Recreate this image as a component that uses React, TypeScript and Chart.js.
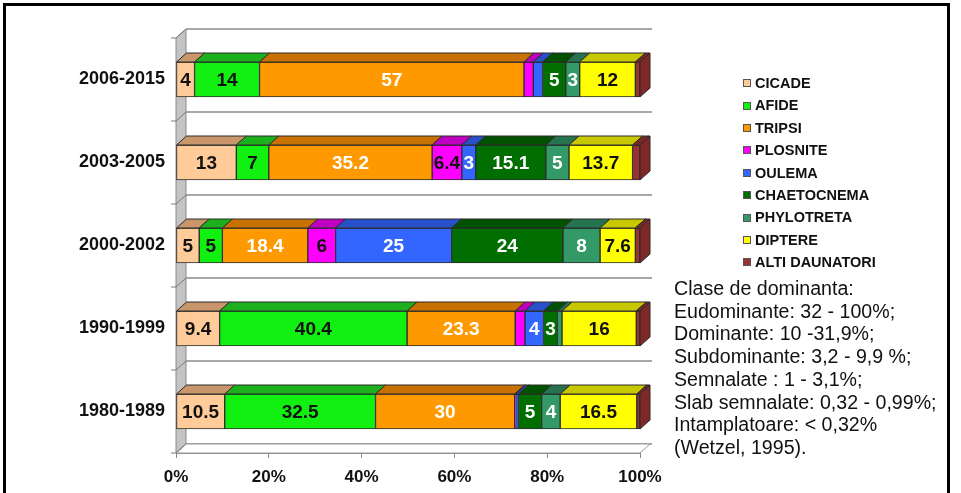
import React, { useEffect, useRef } from 'react';
import { Chart, registerables } from 'chart.js';

Chart.register(...registerables);

const FONT = '"Liberation Sans", Arial, Helvetica, sans-serif';

// Periods (top to bottom)
const categories = ['2006-2015', '2003-2005', '2000-2002', '1990-1999', '1980-1989'];

// Share of each pest group per period (%)
const cicade = [4, 13, 5, 9.4, 10.5];
const afide = [14, 7, 5, 40.4, 32.5];
const tripsi = [57, 35.2, 18.4, 23.3, 30];
const plosnite = [2, 6.4, 6, 2.1, 0.2];
const oulema = [2, 3, 25, 4, 0.6];
const chaetocnema = [5, 15.1, 24, 3, 5];
const phylotreta = [3, 5, 8, 1, 4];
const diptere = [12, 13.7, 7.6, 16, 16.5];
const altiDaunatori = [1, 1.6, 1, 0.8, 0.7];

const seriesNames = ['CICADE', 'AFIDE', 'TRIPSI', 'PLOSNITE', 'OULEMA', 'CHAETOCNEMA', 'PHYLOTRETA', 'DIPTERE', 'ALTI DAUNATORI'];
const seriesValues = [cicade, afide, tripsi, plosnite, oulema, chaetocnema, phylotreta, diptere, altiDaunatori];

const frontColors = ['#FFCC99', '#11F011', '#FF9900', '#FF00FF', '#3366FF', '#006E00', '#339966', '#FFFF00', '#993333'];
const topColors = ['#C8966A', '#1CB01C', '#C87000', '#C000C0', '#2850C8', '#005200', '#267350', '#C8C800', '#7A2626'];
const labelColors = ['#111', '#111', '#fff', '#111', '#fff', '#fff', '#fff', '#111', '#fff'];
const sideColor = '#7E2828';

const xTickValues = [0, 20, 40, 60, 80, 100];

const legendLines = seriesNames;
const noteLines = [
  'Clase de dominanta:',
  'Eudominante: 32 - 100%;',
  'Dominante: 10 -31,9%;',
  'Subdominante: 3,2 - 9,9 %;',
  'Semnalate : 1 - 3,1%;',
  'Slab semnalate: 0,32 - 0,99%;',
  'Intamplatoare: < 0,32%',
  '(Wetzel, 1995).',
];

// depth of the pseudo-3D extrusion
const DX = 10;
const DY = 9;
const LABEL_MIN = 3;

const depthPlugin = {
  id: 'depth3d',
  beforeDatasetsDraw(chart: any) {
    const { ctx, chartArea } = chart;
    const { left, right, top, bottom } = chartArea;
    const yScale = chart.scales.y;
    const n = categories.length;
    const step = (bottom - top) / n;
    const bounds: number[] = [];
    for (let i = 0; i <= n; i++) bounds.push(yScale.getPixelForValue(0) - step / 2 + i * step);
    ctx.save();
    // horizontal grid lines on the back
    ctx.strokeStyle = '#A8A8A8';
    ctx.lineWidth = 2;
    bounds.forEach((b) => {
      ctx.beginPath();
      ctx.moveTo(left + DX, b - DY);
      ctx.lineTo(right + DX + 2, b - DY);
      ctx.stroke();
    });
    // floor slab
    ctx.beginPath();
    ctx.moveTo(left, bottom);
    ctx.lineTo(right, bottom);
    ctx.lineTo(right + DX, bottom - DY);
    ctx.lineTo(left + DX, bottom - DY);
    ctx.closePath();
    ctx.fillStyle = '#fff';
    ctx.fill();
    ctx.lineWidth = 1;
    ctx.strokeStyle = '#9A9A9A';
    ctx.stroke();
    // side wall
    ctx.beginPath();
    ctx.moveTo(left, top);
    ctx.lineTo(left + DX, top - DY);
    ctx.lineTo(left + DX, bottom - DY);
    ctx.lineTo(left, bottom);
    ctx.closePath();
    ctx.fillStyle = '#C4C4C4';
    ctx.fill();
    ctx.strokeStyle = '#8A8A8A';
    ctx.stroke();
    ctx.strokeStyle = '#7A7A7A';
    bounds.forEach((b) => {
      ctx.beginPath();
      ctx.moveTo(left, b);
      ctx.lineTo(left + DX, b - DY);
      ctx.stroke();
      ctx.beginPath();
      ctx.moveTo(left - 5, b);
      ctx.lineTo(left, b);
      ctx.stroke();
    });
    ctx.restore();
  },
  afterDatasetsDraw(chart: any) {
    const { ctx } = chart;
    const last = chart.data.datasets.length - 1;
    ctx.save();
    ctx.lineWidth = 1;
    ctx.strokeStyle = '#2b2b2b';
    chart.data.datasets.forEach((ds: any, di: number) => {
      const meta = chart.getDatasetMeta(di);
      meta.data.forEach((el: any) => {
        const { x, y, base, height } = el.getProps(['x', 'y', 'base', 'height'], true);
        const x0 = Math.min(x, base);
        const x1 = Math.max(x, base);
        const t = y - height / 2;
        const b = y + height / 2;
        if (x1 - x0 > 0.1) {
          ctx.beginPath();
          ctx.moveTo(x0, t);
          ctx.lineTo(x1, t);
          ctx.lineTo(x1 + DX, t - DY);
          ctx.lineTo(x0 + DX, t - DY);
          ctx.closePath();
          ctx.fillStyle = topColors[di];
          ctx.fill();
          ctx.stroke();
        }
        if (di === last) {
          ctx.beginPath();
          ctx.moveTo(x1, t);
          ctx.lineTo(x1 + DX, t - DY);
          ctx.lineTo(x1 + DX, b - DY);
          ctx.lineTo(x1, b);
          ctx.closePath();
          ctx.fillStyle = sideColor;
          ctx.fill();
          ctx.stroke();
        }
      });
    });
    // value labels on the front faces
    ctx.font = `bold 19px ${FONT}`;
    ctx.textAlign = 'center';
    ctx.textBaseline = 'middle';
    chart.data.datasets.forEach((ds: any, di: number) => {
      const meta = chart.getDatasetMeta(di);
      meta.data.forEach((el: any, j: number) => {
        const v = ds.data[j];
        if (v < LABEL_MIN) return;
        const { x, y, base } = el.getProps(['x', 'y', 'base'], true);
        ctx.fillStyle = labelColors[di];
        ctx.fillText(String(v), (x + base) / 2, y + 1);
      });
    });
    ctx.restore();
  },
};

export default function App() {
  const canvasRef = useRef<HTMLCanvasElement>(null);

  useEffect(() => {
    const chart = new Chart(canvasRef.current!, {
      type: 'bar',
      data: {
        labels: categories,
        datasets: seriesNames.map((name, i) => ({
          label: name,
          data: seriesValues[i],
          backgroundColor: frontColors[i],
          borderColor: '#2b2b2b',
          borderWidth: 1,
          borderSkipped: false,
          barThickness: 35,
          stack: 'all',
        })),
      },
      options: {
        indexAxis: 'y',
        responsive: false,
        animation: false,
        layout: { padding: { top: 38, right: 321, left: 0, bottom: 0 } },
        plugins: { legend: { display: false }, tooltip: { enabled: false } },
        scales: {
          x: {
            stacked: true,
            min: 0,
            max: 100,
            afterFit: (s: any) => { s.height = 40; },
            afterBuildTicks: (s: any) => { s.ticks = xTickValues.map((v) => ({ value: v })); },
            ticks: {
              callback: (v: any) => `${v}%`,
              color: '#111',
              font: { family: FONT, size: 17, weight: 'bold' },
              padding: 9,
              maxRotation: 0,
            },
            grid: { drawOnChartArea: false, drawTicks: true, tickLength: 5, color: '#888' },
            border: { display: true, color: '#888', width: 1 },
          },
          y: {
            stacked: true,
            afterFit: (s: any) => { s.width = 176; },
            ticks: {
              color: '#111',
              font: { family: FONT, size: 18, weight: 'bold' },
              padding: 3,
            },
            grid: { display: false },
            border: { display: false },
          },
        },
      },
      plugins: [depthPlugin],
    } as any);
    return () => chart.destroy();
  }, []);

  return (
    <div style={{ position: 'fixed', left: 0, top: 0, width: 961, height: 493, background: '#fff', overflow: 'hidden', fontFamily: FONT }}>
      <canvas ref={canvasRef} width={961} height={493} style={{ position: 'absolute', left: 0, top: 0 }} />
      <div style={{ position: 'absolute', left: 3, top: 3, width: 947, height: 540, border: '3px solid #000', boxSizing: 'border-box' }} />
      <div style={{ position: 'absolute', left: 743, top: 72, fontSize: 14.5, fontWeight: 'bold', lineHeight: '22.4px', color: '#111' }}>
        {legendLines.map((name, i) => (
          <div key={name} style={{ display: 'flex', alignItems: 'center', whiteSpace: 'nowrap' }}>
            <span style={{ display: 'inline-block', width: 6, height: 6, background: frontColors[i], border: '1px solid #555', marginRight: 4 }} />
            <span>{name}</span>
          </div>
        ))}
      </div>
      <div style={{ position: 'absolute', left: 674, top: 277, fontSize: 19.6, lineHeight: '22.7px', color: '#111', whiteSpace: 'nowrap' }}>
        {noteLines.map((line) => (
          <div key={line}>{line}</div>
        ))}
      </div>
    </div>
  );
}
